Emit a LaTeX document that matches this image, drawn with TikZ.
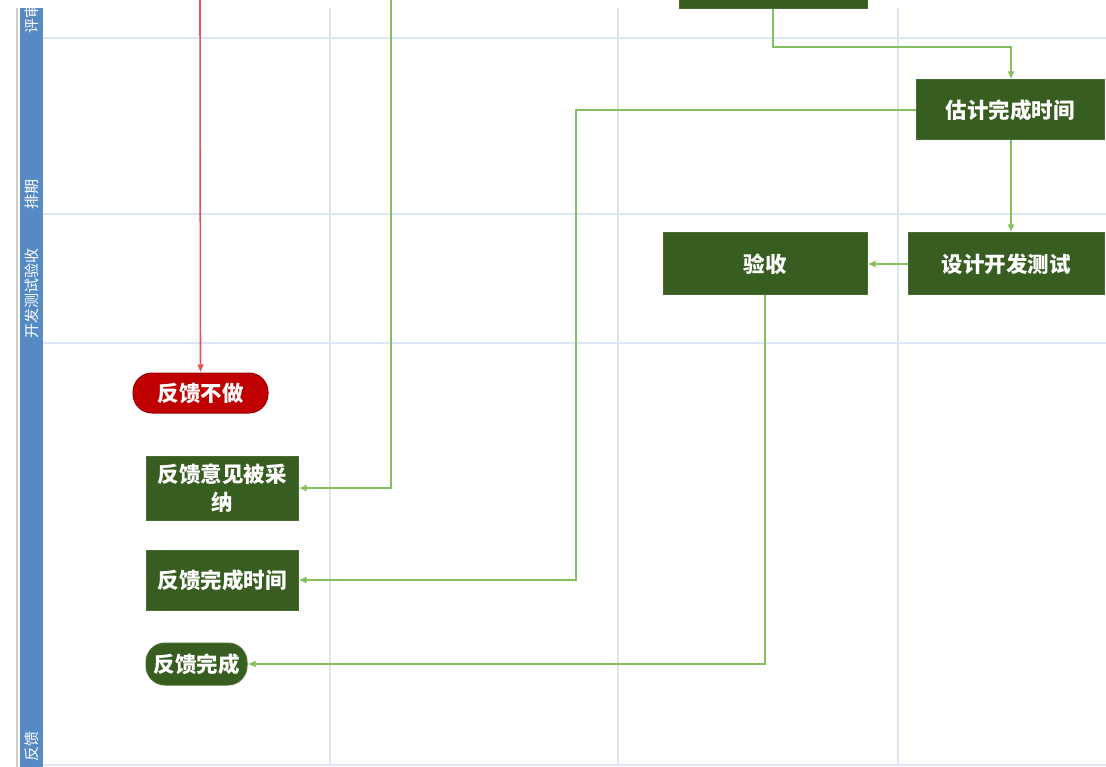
\documentclass[tikz,border=0pt]{standalone}
\usepackage{fontspec}
\newfontfamily\cjk{Noto Sans CJK SC}
\usetikzlibrary{arrows.meta}
\definecolor{boxgreen}{HTML}{385D20}
\definecolor{boxedge}{HTML}{4A6E30}
\definecolor{linegreen}{HTML}{86BF5E}
\definecolor{redfill}{HTML}{C00000}
\definecolor{redline}{HTML}{E05555}
\definecolor{sideblue}{HTML}{568AC4}
\definecolor{gridblue}{HTML}{DCE6F2}
\tikzset{
  x=1pt, y=-1pt,
  box/.style={rectangle, fill=boxgreen, draw=boxedge, line width=1pt, text=white, inner sep=2pt, align=center, font=\cjk\bfseries\fontsize{21.5}{28}\selectfont},
  stadium/.style={box, rounded corners=19pt},
  redstadium/.style={stadium, fill=redfill, draw=redfill!80!black},
  flow/.style={draw=linegreen, line width=1.8pt, -{Latex[length=8pt,width=7pt]}},
  redflow/.style={draw=redline, line width=1.6pt, -{Latex[length=8pt,width=7pt]}},
  grid/.style={draw=gridblue, line width=2pt},
  lanelabel/.style={rotate=90, anchor=west, text=white, font=\cjk\fontsize{15}{17}\selectfont, inner sep=0pt}
}
\begin{document}
\begin{tikzpicture}
\useasboundingbox (0,0) rectangle (1106,767);
\clip (0,0) rectangle (1106,767);
\fill[white] (0,0) rectangle (1106,767);
% left border and lane sidebar
\draw[draw=black!20, line width=2pt] (17,8) -- (17,767);
\fill[sideblue] (20,8) rectangle (43,767);
% grid
\foreach \yy in {38,214,343,765} \draw[grid] (43,\yy) -- (1106,\yy);
\foreach \xx in {330,618,898} \draw[grid] (\xx,8) -- (\xx,765);
% lane labels
\node[lanelabel] (l1) at (31.5,34) {评审};
\node[lanelabel] (l2) at (31.5,210) {排期};
\node[lanelabel] (l3) at (31.5,339) {开发测试验收};
\node[lanelabel] (l4) at (31.5,762) {反馈};
% nodes
\node[box, minimum width=188pt, minimum height=58pt] (top) at (773,-20) {};
\node[box, minimum width=188pt, minimum height=60pt] (est) at (1010,110) {估计完成时间};
\node[box, minimum width=196pt, minimum height=62pt] (dev) at (1006,264) {设计开发测试};
\node[box, minimum width=204pt, minimum height=62pt] (acc) at (765,264) {验收};
\node[redstadium, minimum width=135pt, minimum height=40pt] (no) at (200.5,393) {反馈不做};
\node[box, minimum width=152pt, minimum height=64pt] (adopt) at (222,488) {反馈意见被采\\纳};
\node[box, minimum width=152pt, minimum height=60pt] (time) at (222,580) {反馈完成时间};
\node[stadium, minimum width=101pt, minimum height=42pt] (done) at (196.5,664) {反馈完成};
% free ends
\coordinate (redtop) at (200,0);
\coordinate (greentop) at (391,0);
% connectors
\draw[redflow] (redtop) -- (no.north);
\draw[flow] (greentop) -- (391,488) -- (adopt.east);
\draw[flow] (top.south) -- (773,47) -- (1011,47) -- (est.north -| 1011,0);
\draw[flow] (est.west) -- (576,110) -- (576,580) -- (time.east);
\draw[flow] (est.south -| 1011,0) -- (dev.north -| 1011,0);
\draw[flow] (dev.west) -- (acc.east);
\draw[flow] (acc.south) -- (765,664) -- (done.east);
\end{tikzpicture}
\end{document}
